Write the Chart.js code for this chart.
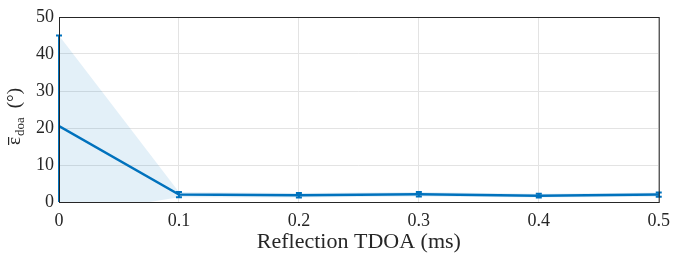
<!DOCTYPE html>
<html>
<head>
<meta charset="utf-8">
<script src="https://cdn.jsdelivr.net/npm/chart.js@4/dist/chart.umd.min.js"></script>
<style>
  html, body { margin: 0; padding: 0; background: #fff; }
  #wrap { width: 678px; height: 255px; }
</style>
</head>
<body>
<div id="wrap"><canvas id="myChart"></canvas></div>
<script>
// data
var tdoa = [0, 0.1, 0.2, 0.3, 0.4, 0.5];
var meanErr = [20.5, 2.0, 1.8, 2.1, 1.7, 2.0];
var upperErr = [45, 2.7, 2.4, 2.7, 2.2, 2.6];
var lowerErr = [-4, 1.3, 1.2, 1.5, 1.2, 1.4];
var xTicks = [0, 0.1, 0.2, 0.3, 0.4, 0.5];
var yTicks = [0, 10, 20, 30, 40, 50];

var blue = '#0072BD';
var font = 'Liberation Serif';

function pts(arr) {
    var out = [];
    for (var i = 0; i < tdoa.length; i++) {
        out.push({ x: tdoa[i], y: arr[i] });
    }
    return out;
}

// error bars with small caps
var errorBars = {
    id: 'errorBars',
    afterDatasetsDraw: function (chart) {
        var ctx = chart.ctx;
        var xs = chart.scales.x, ys = chart.scales.y;
        var a = chart.chartArea;
        ctx.save();
        ctx.beginPath();
        ctx.rect(a.left - 4, a.top, a.right - a.left + 8, a.bottom - a.top);
        ctx.clip();
        ctx.strokeStyle = blue;
        ctx.lineWidth = 2;
        for (var i = 0; i < tdoa.length; i++) {
            var px = xs.getPixelForValue(tdoa[i]);
            var top = ys.getPixelForValue(upperErr[i]);
            var bot = ys.getPixelForValue(lowerErr[i]);
            ctx.beginPath();
            ctx.moveTo(px, top); ctx.lineTo(px, bot);
            ctx.moveTo(px - 3, top); ctx.lineTo(px + 3, top);
            ctx.moveTo(px - 3, bot); ctx.lineTo(px + 3, bot);
            ctx.stroke();
        }
        ctx.restore();
    }
};

// box around the axes + y label with subscript
var boxAndLabel = {
    id: 'boxAndLabel',
    afterDraw: function (chart) {
        var ctx = chart.ctx;
        var a = chart.chartArea;
        ctx.save();
        ctx.strokeStyle = '#262626';
        ctx.lineWidth = 1;
        ctx.strokeRect(a.left + 0.5, a.top + 0.5, a.right - a.left, a.bottom - a.top);

        // label runs upward from y=145, baseline at x=20
        ctx.translate(20, 145);
        ctx.rotate(-Math.PI / 2);
        ctx.fillStyle = '#262626';
        ctx.textBaseline = 'alphabetic';
        var big = '19px "' + font + '"';
        var small = '13px "' + font + '"';
        ctx.font = big;
        var w1 = ctx.measureText('\u03b5').width;
        ctx.fillText('\u03b5', 0, 0);
        ctx.fillRect(0, -12, w1, 1.2);
        ctx.font = small;
        var w2 = ctx.measureText('doa').width;
        ctx.fillText('doa', w1 + 1, 4);
        ctx.font = big;
        ctx.fillText('(\u00b0)', w1 + w2 + 10, 0);
        ctx.restore();
    }
};

var ctx = document.getElementById('myChart').getContext('2d');

window.myChart = new Chart(ctx, {
    type: 'line',
    data: {
        datasets: [
            {
                label: 'upper',
                data: pts(upperErr),
                borderWidth: 0,
                pointRadius: 0,
                fill: '+1',
                backgroundColor: 'rgba(0,114,189,0.11)'
            },
            {
                label: 'lower',
                data: pts(lowerErr),
                borderWidth: 0,
                pointRadius: 0,
                fill: false
            },
            {
                label: 'mean',
                data: pts(meanErr),
                borderColor: blue,
                borderWidth: 2.5,
                pointRadius: 0,
                fill: false
            }
        ]
    },
    options: {
        responsive: true,
        maintainAspectRatio: false,
        animation: false,
        layout: { padding: { left: 0, right: 19, top: 17, bottom: 0 } },
        plugins: {
            legend: { display: false },
            tooltip: { enabled: false },
            filler: { drawTime: 'beforeDatasetsDraw' }
        },
        scales: {
            x: {
                type: 'linear',
                min: 0,
                max: 0.5,
                afterBuildTicks: function (s) {
                    s.ticks = xTicks.map(function (v) { return { value: v }; });
                },
                afterFit: function (s) { s.height = 53; },
                border: { display: false },
                grid: { color: '#e3e3e3', drawTicks: false },
                ticks: {
                    padding: 8,
                    color: '#262626',
                    font: { family: font, size: 18 },
                    callback: function (v) { return String(v); }
                },
                title: {
                    display: true,
                    text: 'Reflection TDOA (ms)',
                    color: '#262626',
                    font: { family: font, size: 22 },
                    padding: { top: 0, bottom: 0 }
                }
            },
            y: {
                min: 0,
                max: 50,
                afterBuildTicks: function (s) {
                    s.ticks = yTicks.map(function (v) { return { value: v }; });
                },
                afterFit: function (s) { s.width = 59; },
                border: { display: false },
                grid: { color: '#e3e3e3', drawTicks: false },
                ticks: {
                    padding: 5,
                    color: '#262626',
                    font: { family: font, size: 18 }
                }
            }
        }
    },
    plugins: [errorBars, boxAndLabel]
});
</script>
</body>
</html>
